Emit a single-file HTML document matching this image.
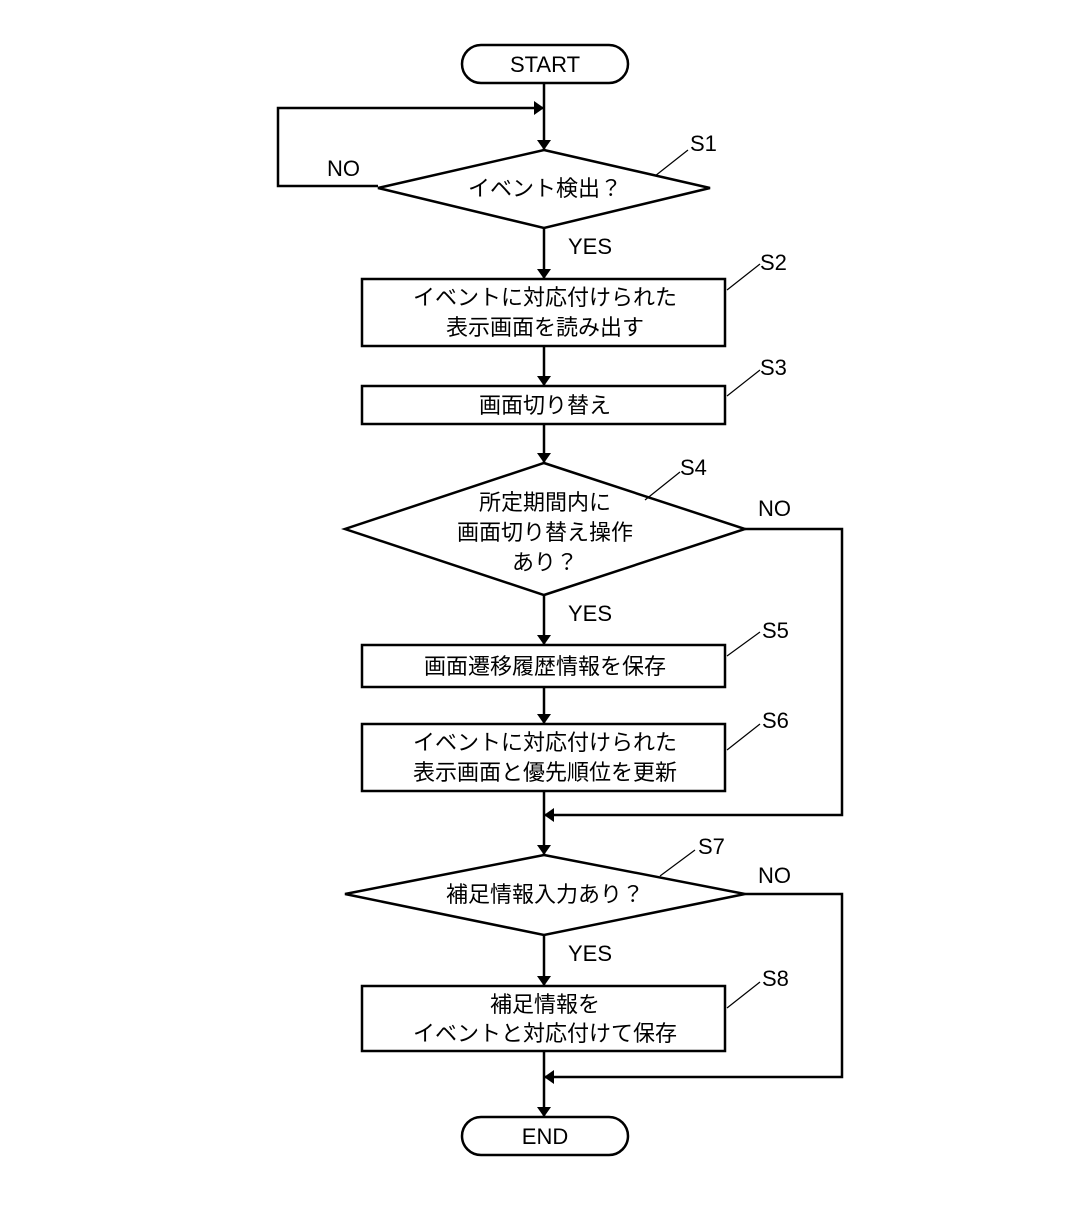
<!DOCTYPE html>
<html><head><meta charset="utf-8"><style>
body{margin:0;background:#fff}
text{font-family:"Liberation Sans","Noto Sans CJK JP",sans-serif;fill:#000}
</style></head><body>
<svg width="1087" height="1213" viewBox="0 0 1087 1213" xmlns="http://www.w3.org/2000/svg">
<defs><marker id="a" markerWidth="10" markerHeight="14" refX="10" refY="7" orient="auto" markerUnits="userSpaceOnUse"><path d="M0,0 L10,7 L0,14 z" fill="#000"/></marker></defs>
<g stroke="#000" stroke-width="2.5" fill="none">
<rect x="462" y="45" width="166" height="38" rx="19"/>
<rect x="462" y="1117" width="166" height="38" rx="19"/>
<polygon points="544,150 710,188 544,228 378,188"/>
<rect x="362" y="279" width="363" height="67"/>
<rect x="362" y="386" width="363" height="38"/>
<polygon points="544,463 745,529 544,595 345,529"/>
<rect x="362" y="645" width="363" height="42"/>
<rect x="362" y="724" width="363" height="67"/>
<polygon points="544,855 745,894 544,935 345,894"/>
<rect x="362" y="986" width="363" height="65"/>
</g>
<g stroke="#000" stroke-width="2.5" fill="none">
<line x1="544" y1="83" x2="544" y2="150" marker-end="url(#a)"/>
<polyline points="378,186 278,186 278,108 544,108" marker-end="url(#a)"/>
<line x1="544" y1="228" x2="544" y2="279" marker-end="url(#a)"/>
<line x1="544" y1="346" x2="544" y2="386" marker-end="url(#a)"/>
<line x1="544" y1="424" x2="544" y2="463" marker-end="url(#a)"/>
<line x1="544" y1="595" x2="544" y2="645" marker-end="url(#a)"/>
<line x1="544" y1="687" x2="544" y2="724" marker-end="url(#a)"/>
<line x1="544" y1="791" x2="544" y2="855" marker-end="url(#a)"/>
<polyline points="745,529 842,529 842,815 544,815" marker-end="url(#a)"/>
<line x1="544" y1="935" x2="544" y2="986" marker-end="url(#a)"/>
<line x1="544" y1="1051" x2="544" y2="1117" marker-end="url(#a)"/>
<polyline points="745,894 842,894 842,1077 544,1077" marker-end="url(#a)"/>
</g>
<g stroke="#000" stroke-width="1.2">
<line x1="655" y1="176" x2="688" y2="150"/>
<line x1="727" y1="290" x2="760" y2="264"/>
<line x1="727" y1="396" x2="760" y2="370"/>
<line x1="645" y1="500" x2="680" y2="472"/>
<line x1="727" y1="656" x2="760" y2="632"/>
<line x1="727" y1="750" x2="760" y2="724"/>
<line x1="660" y1="876" x2="695" y2="850"/>
<line x1="727" y1="1008" x2="760" y2="982"/>
</g>
<g font-size="22">
<text x="545" y="72" text-anchor="middle">START</text>
<text x="545" y="1144" text-anchor="middle">END</text>
<text x="690" y="151">S1</text>
<text x="760" y="270">S2</text>
<text x="760" y="375">S3</text>
<text x="680" y="475">S4</text>
<text x="762" y="638">S5</text>
<text x="762" y="728">S6</text>
<text x="698" y="854">S7</text>
<text x="762" y="986">S8</text>
<text x="327" y="176">NO</text>
<text x="758" y="516">NO</text>
<text x="758" y="883">NO</text>
<text x="568" y="254">YES</text>
<text x="568" y="621">YES</text>
<text x="568" y="961">YES</text>
<text x="545" y="196" text-anchor="middle">イベント検出？</text>
<text x="545" y="305" text-anchor="middle">イベントに対応付けられた</text>
<text x="545" y="335" text-anchor="middle">表示画面を読み出す</text>
<text x="545" y="413" text-anchor="middle">画面切り替え</text>
<text x="545" y="510" text-anchor="middle">所定期間内に</text>
<text x="545" y="540" text-anchor="middle">画面切り替え操作</text>
<text x="545" y="570" text-anchor="middle">あり？</text>
<text x="545" y="674" text-anchor="middle">画面遷移履歴情報を保存</text>
<text x="545" y="750" text-anchor="middle">イベントに対応付けられた</text>
<text x="545" y="780" text-anchor="middle">表示画面と優先順位を更新</text>
<text x="545" y="902" text-anchor="middle">補足情報入力あり？</text>
<text x="545" y="1012" text-anchor="middle">補足情報を</text>
<text x="545" y="1041" text-anchor="middle">イベントと対応付けて保存</text>
</g>
</svg>
</body></html>
